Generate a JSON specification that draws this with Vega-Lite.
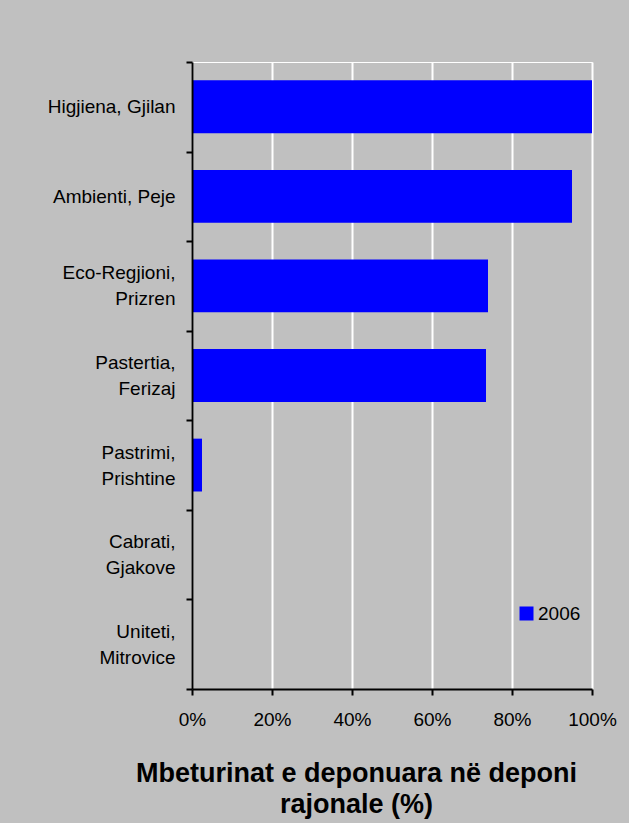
{
  "$schema": "https://vega.github.io/schema/vega-lite/v6.json",
  "width": 400,
  "height": 627,
  "autosize": {"type": "none"},
  "padding": {"left": 192, "top": 62, "right": 37, "bottom": 134},
  "background": "#c0c0c0",
  "config": {
    "font": "Liberation Sans",
    "view": {"stroke": "#ffffff", "strokeWidth": 1}
  },
  "data": {
    "values": [
      {"site": "Higjiena, Gjilan", "year": "2006", "share": 1.0},
      {"site": "Ambienti, Peje", "year": "2006", "share": 0.95},
      {"site": "Eco-Regjioni,\nPrizren", "year": "2006", "share": 0.74},
      {"site": "Pastertia,\nFerizaj", "year": "2006", "share": 0.735},
      {"site": "Pastrimi,\nPrishtine", "year": "2006", "share": 0.025},
      {"site": "Cabrati,\nGjakove", "year": "2006", "share": 0},
      {"site": "Uniteti,\nMitrovice", "year": "2006", "share": 0}
    ]
  },
  "mark": {"type": "bar", "height": {"band": 0.59}},
  "encoding": {
    "y": {
      "field": "site",
      "type": "nominal",
      "sort": null,
      "scale": {"paddingInner": 0, "paddingOuter": 0},
      "axis": {
        "title": null,
        "grid": false,
        "zindex": 1,
        "domainColor": "#000000",
        "domainWidth": 2,
        "tickColor": "#000000",
        "tickWidth": 2,
        "tickSize": 6,
        "tickBand": "extent",
        "labelExpr": "indexof(datum.label, '\\n') < 0 ? ['\u200b', datum.label] : [pad(split(datum.label, '\\n')[0], length(split(datum.label, '\\n')[0]) + max(0, round((length(split(datum.label, '\\n')[1]) - length(split(datum.label, '\\n')[0])) * 0.9)), '\u00a0', 'right'), '\u200b', pad(split(datum.label, '\\n')[1], length(split(datum.label, '\\n')[1]) + max(0, round((length(split(datum.label, '\\n')[0]) - length(split(datum.label, '\\n')[1])) * 0.9)), '\u00a0', 'right')]",
        "labelFont": "Liberation Sans",
        "labelFontSize": 19,
        "labelColor": "#000000",
        "labelAlign": "right",
        "labelBaseline": "middle",
        "labelLineHeight": 13,
        "labelOffset": -13,
        "labelPadding": 11
      }
    },
    "x": {
      "field": "share",
      "type": "quantitative",
      "scale": {"domain": [0, 1], "nice": false},
      "axis": {
        "values": [0, 0.2, 0.4, 0.6, 0.8, 1],
        "format": ".0%",
        "grid": true,
        "gridColor": "#ffffff",
        "gridWidth": 2,
        "gridOpacity": 1,
        "domainColor": "#000000",
        "domainWidth": 2,
        "tickColor": "#000000",
        "tickWidth": 2,
        "tickSize": 6,
        "labelFont": "Liberation Sans",
        "labelFontSize": 19,
        "labelColor": "#000000",
        "labelPadding": 15,
        "labelFlush": false,
        "title": ["Mbeturinat e deponuara në deponi", "rajonale (%)"],
        "titleFont": "Liberation Sans",
        "titleFontSize": 27,
        "titleFontWeight": "bold",
        "titleColor": "#000000",
        "titleLineHeight": 31,
        "titleAlign": "center",
        "titleBaseline": "alphabetic",
        "titleX": 164,
        "titleY": 92
      }
    },
    "color": {
      "field": "year",
      "type": "nominal",
      "scale": {"range": ["#0000ff"]},
      "legend": {
        "title": null,
        "orient": "none",
        "legendX": 325,
        "legendY": 542,
        "padding": 0,
        "symbolType": "square",
        "symbolSize": 196,
        "symbolStrokeWidth": 0,
        "symbolOpacity": 1,
        "labelFont": "Liberation Sans",
        "labelFontSize": 19,
        "labelColor": "#000000",
        "labelOffset": 2
      }
    }
  }
}
